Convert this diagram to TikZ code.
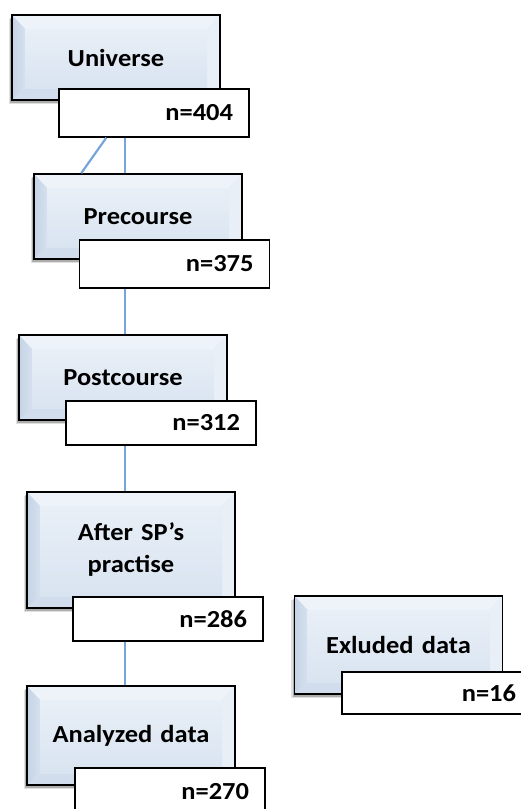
\documentclass[tikz,border=0pt]{standalone}
\usepackage{fontspec}
\setmainfont{Carlito}[FakeStretch=1.08]
\usetikzlibrary{calc,shadows}

\definecolor{bevface}{RGB}{217,228,241}
\definecolor{bevtop}{RGB}{238,243,249}
\definecolor{bevleft}{RGB}{196,211,229}
\definecolor{bevright}{RGB}{233,239,247}
\definecolor{bevbottom}{RGB}{209,221,236}
\definecolor{linkblue}{RGB}{120,165,215}

\tikzset{
  stage/.style={draw=black, line width=1.6pt, fill=bevface,
    minimum width=208pt, minimum height=85pt, text width=180pt, inner xsep=14pt,
    align=center, font=\fontsize{24.5}{32}\selectfont\bfseries,
    drop shadow={shadow xshift=-3.5pt, shadow yshift=-4pt, fill=black!60, opacity=0.2},
    drop shadow={shadow xshift=-2pt, shadow yshift=-2.5pt, fill=black!70, opacity=0.35},
    path picture={
      \coordinate (o1) at (path picture bounding box.north west);
      \coordinate (o2) at (path picture bounding box.north east);
      \coordinate (o3) at (path picture bounding box.south east);
      \coordinate (o4) at (path picture bounding box.south west);
      \coordinate (i1) at ([xshift=13pt,yshift=-14pt]o1);
      \coordinate (i2) at ([xshift=-13pt,yshift=-14pt]o2);
      \coordinate (i3) at ([xshift=-13pt,yshift=12pt]o3);
      \coordinate (i4) at ([xshift=13pt,yshift=12pt]o4);
      \fill[bevtop] (o1) -- (o2) -- (i2) -- (i1) -- cycle;
      \shade[left color=bevleft, right color=bevface!80!bevleft] (o1) -- (i1) -- (i4) -- (o4) -- cycle;
      \fill[bevright] (o2) -- (o3) -- (i3) -- (i2) -- cycle;
      \fill[bevbottom] (o4) -- (i4) -- (i3) -- (o3) -- cycle;
      \shade[top color=bevface!60!white, bottom color=bevface] (i1) rectangle (i3);
    }},
  count/.style={draw=black, line width=1.3pt, fill=white,
    minimum width=190pt, minimum height=48pt, text width=158pt, inner xsep=16pt,
    align=right, font=\fontsize{24.5}{28}\selectfont\bfseries},
  link/.style={draw=linkblue, line width=1.4pt}
}

\begin{document}
\begin{tikzpicture}[x=1pt,y=-1pt]
  \useasboundingbox (0,0) rectangle (521,809);

  \node[stage] (universe) at (116,57.5) {Universe};
  \node[count] (n404) at (154,113) {n=404};
  \node[stage] (precourse) at (138,216.5) {Precourse};
  \node[count] (n375) at (174.5,264) {n=375};
  \node[stage] (postcourse) at (123,377.5) {Postcourse};
  \node[count, minimum height=44pt] (n312) at (161,423) {n=312};
  \node[stage, minimum height=116pt] (practise) at (131,550) {After SP’s\\practise};
  \node[count, minimum height=44pt] (n286) at (168,619) {n=286};
  \node[stage, minimum height=99pt] (analyzed) at (131,735.5) {Analyzed data};
  \node[count] (n270) at (170,792) {n=270};
  \node[stage, minimum height=98pt] (excluded) at (398.5,645) {Exluded data};
  \node[count, minimum height=42pt] (n16) at (437,693) {n=16};

  % flow lines down the left column
  \coordinate (spine) at (125,0);
  \draw[link] (spine |- n404.south) -- (spine |- precourse.north);
  \draw[link, line width=2.2pt] ($(n404.south west)+(48,0)$) -- ($(precourse.north west)+(48,0)$);
  \draw[link] (spine |- n375.south) -- (spine |- postcourse.north);
  \draw[link] (spine |- n312.south) -- (spine |- practise.north);
  \draw[link] (spine |- n286.south) -- (spine |- analyzed.north);
\end{tikzpicture}
\end{document}
